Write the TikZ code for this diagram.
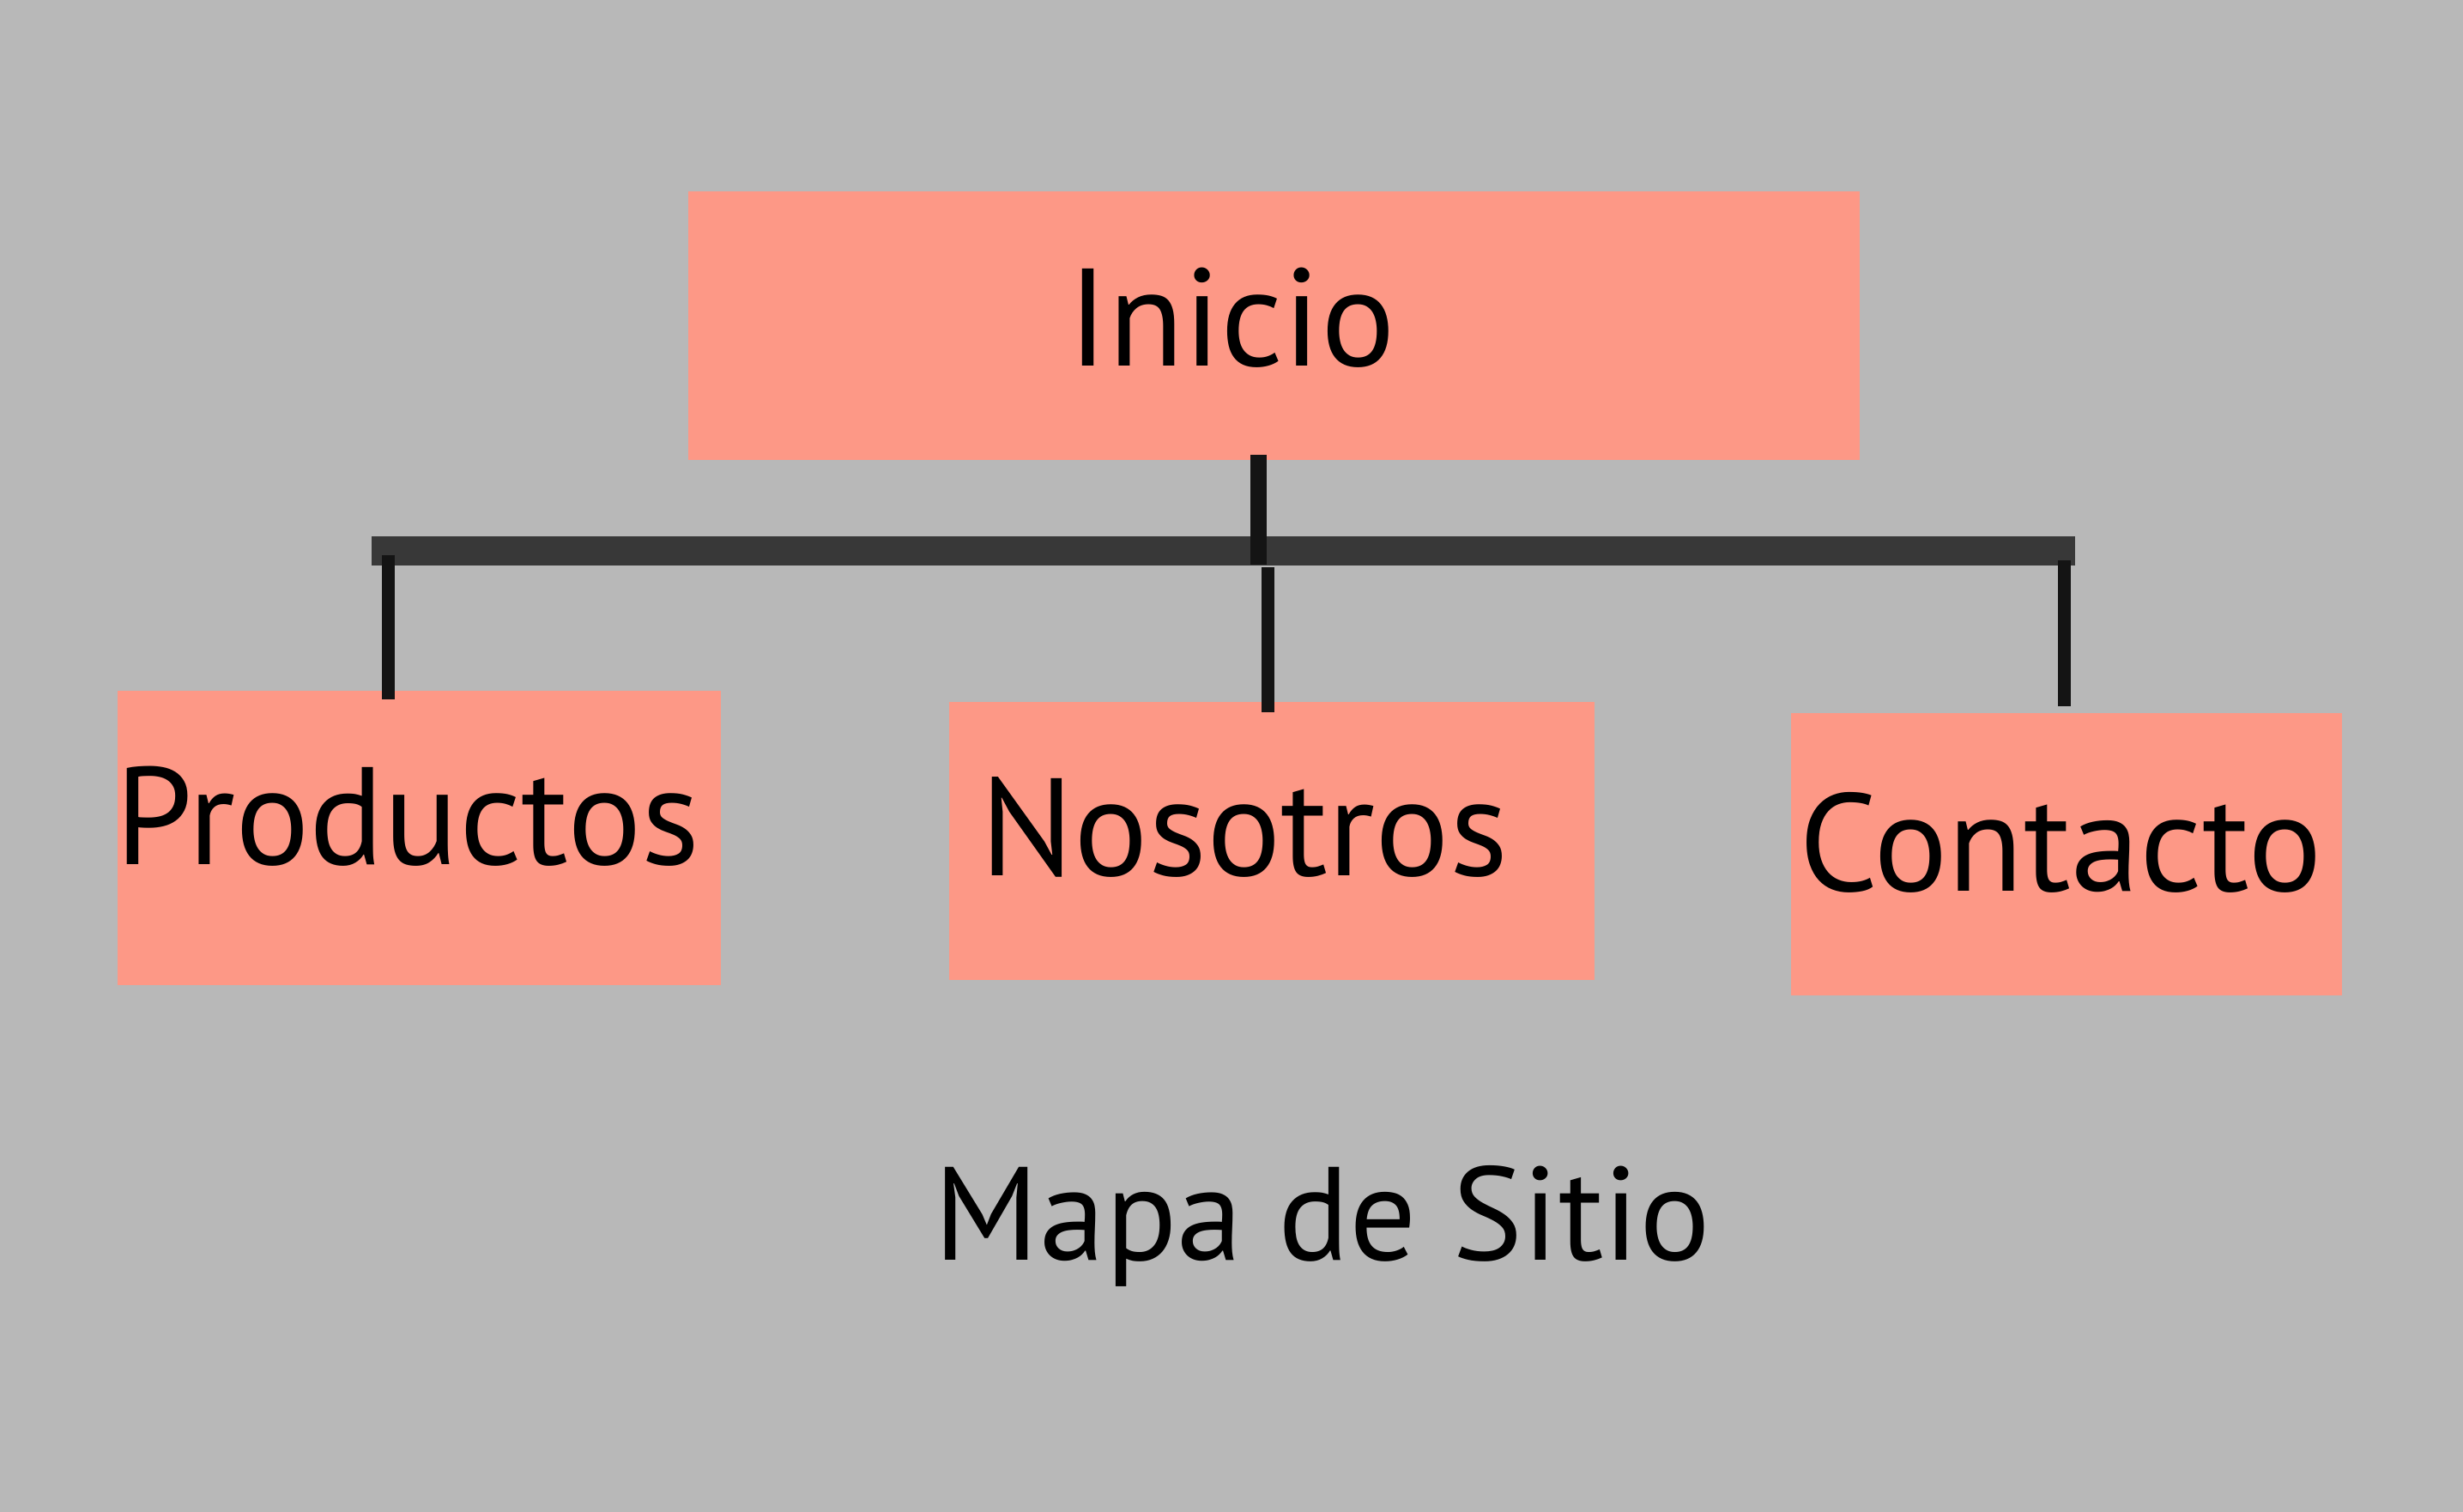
\documentclass[tikz,border=0pt]{standalone}
\usepackage{fontspec}
\setmainfont{PT Sans}
\usetikzlibrary{positioning,calc}
\definecolor{fondo}{HTML}{B8B8B8}
\definecolor{salmon}{HTML}{FD9886}
\definecolor{barra}{HTML}{383838}
\definecolor{tallo}{HTML}{141414}
\begin{document}
\begin{tikzpicture}[x=1cm,y=-1cm,font=\fontsize{46}{55}\selectfont]
\tikzstyle{caja}=[fill=salmon,inner sep=0pt]
\tikzstyle{rotulo}=[anchor=base,inner sep=0pt]
\tikzstyle{tallo}=[draw=tallo,line width=0.15cm]
\fill[fondo] (0,0) rectangle (28.70,17.62);
% cajas
\node[caja,minimum width=13.65cm,minimum height=3.13cm] (inicio) at (14.845,3.795) {};
\node[caja,minimum width=7.03cm,minimum height=3.43cm] (prod) at (4.885,9.765) {};
\node[caja,minimum width=7.52cm,minimum height=3.24cm] (nos) at (14.82,9.80) {};
\node[caja,minimum width=6.42cm,minimum height=3.29cm] (cont) at (24.08,9.955) {};
% textos
\node[rotulo] (tinicio) at (14.35,4.27) {Inicio};
\node[rotulo] (tprod) at (4.75,10.07) {Productos};
\node[rotulo] (tnos) at (14.50,10.20) {Nosotros};
\node[rotulo] (tcont) at (24.01,10.38) {Contacto};
\node[rotulo,font=\fontsize{44}{53}\selectfont] (titulo) at (15.41,14.68) {Mapa de Sitio};
% barra
\coordinate (bizq) at (4.33,6.42);
\coordinate (bder) at (24.18,6.42);
\draw[barra,line width=0.34cm] (bizq) -- (bder);
% tallos
\coordinate (cinicio) at (14.665,6.58);
\coordinate (cprod) at (4.525,6.47);
\coordinate (cnos) at (14.77,6.61);
\coordinate (ccont) at (24.055,6.53);
\draw[tallo,line width=0.19cm,shorten >=-0.07cm] (cinicio) -- (cinicio |- inicio.south);
\draw[tallo,shorten >=-0.11cm] (cprod) -- (cprod |- prod.north);
\draw[tallo,shorten >=-0.13cm] (cnos) -- (cnos |- nos.north);
\draw[tallo,shorten >=0.07cm] (ccont) -- (ccont |- cont.north);
\end{tikzpicture}
\end{document}
